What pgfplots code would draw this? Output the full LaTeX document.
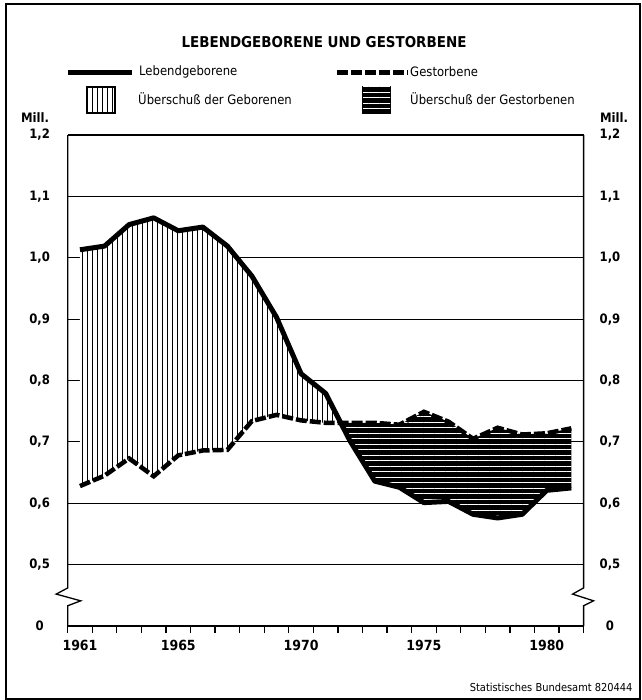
\documentclass[border=0pt]{standalone}
\usepackage{fontspec}
\setmainfont{DejaVu Sans Condensed}[BoldFont={DejaVu Sans Condensed Bold}]
\usepackage{pgfplots}
\usepackage{pgfplotstable}
\pgfplotsset{compat=1.18}
\usepgfplotslibrary{fillbetween}
\usetikzlibrary{patterns}

% vertical hatching: surplus of births
\pgfdeclarepatternformonly{vhatch}{\pgfpoint{-0.1bp}{-0.1bp}}{\pgfpoint{5.1bp}{5.1bp}}{\pgfpoint{5bp}{5bp}}{%
  \pgfsetlinewidth{1.5bp}%
  \pgfpathmoveto{\pgfpoint{2.5bp}{-0.1bp}}%
  \pgfpathlineto{\pgfpoint{2.5bp}{5.1bp}}%
  \pgfusepath{stroke}}
% horizontal hatching: surplus of deaths (white lines on black)
\pgfdeclarepatternformonly{hhatch}{\pgfpoint{-0.1bp}{-0.1bp}}{\pgfpoint{5.6bp}{5.6bp}}{\pgfpoint{5.5bp}{5.5bp}}{%
  \pgfsetlinewidth{1.1bp}%
  \pgfpathmoveto{\pgfpoint{-0.1bp}{2.75bp}}%
  \pgfpathlineto{\pgfpoint{5.6bp}{2.75bp}}%
  \pgfusepath{stroke}}

% Mill., Lebendgeborene (born) and Gestorbene (died)
\pgfplotstableread{
year born died
1961 1.013 0.628
1962 1.019 0.645
1963 1.054 0.673
1964 1.065 0.644
1965 1.044 0.678
1966 1.050 0.686
1967 1.019 0.687
1968 0.970 0.734
1969 0.903 0.744
1970 0.811 0.735
1971 0.779 0.731
1972 0.701 0.731
1973 0.636 0.731
1974 0.626 0.728
1975 0.601 0.749
1976 0.603 0.733
1977 0.582 0.705
1978 0.576 0.723
1979 0.582 0.712
1980 0.621 0.714
1981 0.625 0.722
}\births

\newcommand{\ticksize}{\bfseries\fontsize{13}{15}\selectfont}
\newcommand{\legsize}{\fontsize{13}{15}\selectfont}

\begin{document}
\begin{tikzpicture}
\begin{axis}[
    scale only axis,
    width=515.9bp, height=491bp,
    xmin=1960.5, xmax=1981.5,
    ymin=0.4, ymax=1.2,
    clip=false,
    axis line style={draw=none},
    xtick={1961,1965,1970,1975,1980},
    xticklabels={1961,1965,1970,1975,1980},
    minor xtick={1960.5,1961.5,...,1981.5},
    xtick pos=bottom,
    xtick align=outside,
    major tick length=0pt,
    minor tick length=7bp,
    minor tick style={line width=1.3bp, black},
    ytick={0.4,0.5,0.6,0.7,0.8,0.9,1.0,1.1,1.2},
    yticklabels={0,{0,5},{0,6},{0,7},{0,8},{0,9},{1,0},{1,1},{1,2}},
    ytick pos=left,
    ymajorgrids,
    major grid style={line width=1bp, black},
    yticklabel style={anchor=center, xshift=-28bp, font=\ticksize},
    xticklabel style={anchor=center, yshift=-19bp, font=\bfseries\fontsize{14}{16}\selectfont},
]
\addplot[name path=born, draw=none] table[x=year, y=born] {\births};
\addplot[name path=died, draw=none] table[x=year, y=died] {\births};
\addplot fill between[of=born and died, split,
    every segment no 0/.style={fill=white, postaction={pattern=vhatch}},
    every segment no 1/.style={fill=black, postaction={pattern=hhatch, pattern color=white}}];
\addplot[black, line width=4.5bp, dash pattern=on 11bp off 3bp] table[x=year, y=died] {\births};
\addplot[black, line width=5bp, line join=round] table[x=year, y=born] {\births};

% frame of the plot area with axis breaks
\draw[line width=1.5bp] (axis cs:1960.5,0.4) -- (axis cs:1981.5,0.4);
\draw[line width=1.5bp] (axis cs:1960.5,1.2) -- (axis cs:1981.5,1.2);
\draw[line width=1.3bp] (axis cs:1960.5,1.2) -- (axis cs:1960.5,0.462)
    -- ([xshift=-11.5bp]axis cs:1960.5,0.452) -- ([xshift=13bp]axis cs:1960.5,0.441)
    -- (axis cs:1960.5,0.433) -- (axis cs:1960.5,0.4);
\draw[line width=1.3bp] (axis cs:1981.5,1.2) -- (axis cs:1981.5,0.462)
    -- ([xshift=-11bp]axis cs:1981.5,0.452) -- ([xshift=10bp]axis cs:1981.5,0.441)
    -- (axis cs:1981.5,0.433) -- (axis cs:1981.5,0.4);
\end{axis}

% right-hand tick labels
\begin{axis}[
    scale only axis,
    width=515.9bp, height=491bp,
    xmin=1960.5, xmax=1981.5,
    ymin=0.4, ymax=1.2,
    hide x axis,
    axis line style={draw=none},
    major tick length=0pt,
    ytick={0.4,0.5,0.6,0.7,0.8,0.9,1.0,1.1,1.2},
    yticklabels={0,{0,5},{0,6},{0,7},{0,8},{0,9},{1,0},{1,1},{1,2}},
    ytick pos=right,
    yticklabel pos=right,
    yticklabel style={anchor=center, xshift=26.4bp, font=\ticksize},
]
\end{axis}

% title and legend
\node[font=\bfseries\fontsize{15}{17}\selectfont] at (256.3bp,584bp) {LEBENDGEBORENE UND GESTORBENE};
\draw[line width=5bp] (0.3bp,553bp) -- (64.3bp,553bp);
\node[anchor=west, font=\legsize] at (68bp,554bp) {Lebendgeborene};
\draw[line width=5bp, dash pattern=on 11bp off 3bp] (269.3bp,553bp) -- (340.3bp,553bp);
\node[anchor=west, font=\legsize] at (339bp,554bp) {Gestorbene};
\draw[line width=1.3bp, fill=white, postaction={pattern=vhatch}] (19.3bp,513bp) rectangle (47.3bp,539bp);
\node[anchor=west, font=\legsize] at (67bp,527bp) {Überschuß der Geborenen};
\draw[line width=1.3bp, fill=black, postaction={pattern=hhatch, pattern color=white}] (295.3bp,513bp) rectangle (322.3bp,539bp);
\node[anchor=west, font=\legsize] at (339bp,527bp) {Überschuß der Gestorbenen};
\node[font=\ticksize] at (-32.7bp,508bp) {Mill.};
\node[font=\ticksize] at (546.3bp,508bp) {Mill.};
\node[anchor=east, font=\fontsize{11}{13}\selectfont] at (568.3bp,-61bp) {Statistisches Bundesamt 820444};

% outer frame
\draw[line width=2bp] (-61.7bp,-73bp) rectangle (572.3bp,622bp);

\pgfresetboundingbox
\path (-67.7bp,-74bp) rectangle (574.3bp,626bp);
\end{tikzpicture}
\end{document}
